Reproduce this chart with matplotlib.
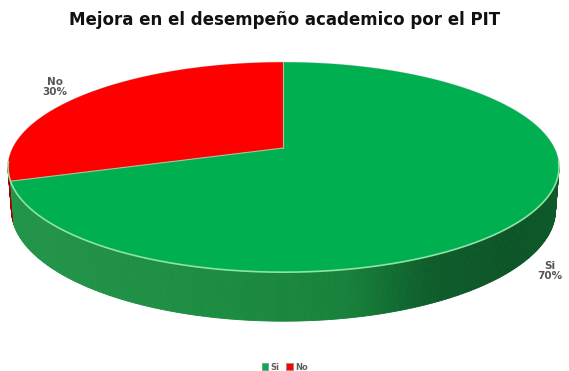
import numpy as np
import matplotlib
matplotlib.use("Agg")
import matplotlib.pyplot as plt
from matplotlib.collections import PolyCollection
from matplotlib.colors import LinearSegmentedColormap, to_rgb
from matplotlib.patches import Patch

# survey results
categories = ["Si", "No"]
values = [70, 30]
colors = ["#00B050", "#FF0000"]
wall_colors = {"Si": None, "No": "#A80000"}
title = "Mejora en el desempeño academico por el PIT"

W, H = 569, 371

# 3D pie geometry (screen pixels)
APEX = (283.5, 148.0)
WIDTH_PX = 551.0
ELEV = np.radians(22.0)
DIST = 5.07
DEPTH = 0.168


def project(theta, z=0.0):
    X = np.cos(theta)
    Y = np.sin(theta)
    depth = DIST + Y * np.cos(ELEV) - z * np.sin(ELEV)
    sx = X * DIST / depth
    sy = (Y * np.sin(ELEV) + z * np.cos(ELEV)) * DIST / depth
    return sx, sy


_t = np.linspace(0, 2 * np.pi, 2000)
_sx, _ = project(_t)
SCALE = WIDTH_PX / (_sx.max() - _sx.min())


def to_px(theta, z=0.0):
    sx, sy = project(theta, z)
    return APEX[0] + sx * SCALE, APEX[1] - sy * SCALE


fig = plt.figure(figsize=(W / 100, H / 100), dpi=100)
ax = fig.add_axes([0, 0, 1, 1])
ax.set_xlim(0, W)
ax.set_ylim(H, 0)
ax.axis("off")

# slice angles, clockwise from 12 o'clock
total = float(sum(values))
bounds = []
start = np.pi / 2
for v in values:
    end = start - v / total * 2 * np.pi
    bounds.append((end, start))
    start = end

# side wall (front half only)
k = np.cos(ELEV) / DIST
th_lo = np.pi + np.arcsin(k)
th_hi = 2 * np.pi - np.arcsin(k)
wall_cmap = LinearSegmentedColormap.from_list("wall", [
    (0.0, "#23954A"), (0.4, "#1C8C42"), (0.62, "#18813B"),
    (0.7, "#126E33"), (0.76, "#0F5E2B"), (0.92, "#0C5427"),
    (1.0, "#0E5A2A")])

ths = np.linspace(th_lo, th_hi, 300)
polys, fcs = [], []
for a, b in zip(ths[:-1], ths[1:]):
    xa, ya = to_px(a)
    xb, yb = to_px(b)
    xa2, ya2 = to_px(a, -DEPTH)
    xb2, yb2 = to_px(b, -DEPTH)
    polys.append([(xa, ya), (xb, yb), (xb2, yb2), (xa2, ya2)])
    mid = 0.5 * (a + b)
    owner = categories[0]
    for cat, (lo, hi) in zip(categories, bounds):
        m = mid
        while m > hi:
            m -= 2 * np.pi
        while m < lo:
            m += 2 * np.pi
        if lo <= m <= hi:
            owner = cat
    if wall_colors[owner] is None:
        frac = (0.5 * (xa + xb) - (APEX[0] - WIDTH_PX / 2)) / WIDTH_PX
        fcs.append(wall_cmap(np.clip(frac, 0, 1)))
    else:
        fcs.append(to_rgb(wall_colors[owner]))
ax.add_collection(PolyCollection(polys, facecolors=fcs, edgecolors=fcs,
                                 linewidths=0.6, zorder=1))

# top faces
for cat, col, (lo, hi) in zip(categories, colors, bounds):
    t = np.linspace(lo, hi, 400)
    px, py = to_px(t)
    xs = np.concatenate([[APEX[0]], px, [APEX[0]]])
    ys = np.concatenate([[APEX[1]], py, [APEX[1]]])
    ax.fill(xs, ys, color=col, lw=0, zorder=2)

# slice separators
for lo, hi in bounds:
    x1, y1 = to_px(hi)
    ax.plot([APEX[0], x1], [APEX[1], y1], color="#9CC79A", lw=0.8, zorder=3)

# rim highlight along the front edge, faint shade along the back
t = np.linspace(th_lo - 0.05, th_hi + 0.05, 300)
rx, ry = to_px(t)
ax.plot(rx, ry, color="#8FE3A6", lw=1.2, zorder=4)
t = np.linspace(th_hi, th_lo + 2 * np.pi, 300)
rx, ry = to_px(t)
ax.plot(rx, ry, color="#D8D8D8", lw=0.8, zorder=1.5)

# data labels
label_pos = {"No": (55, 87), "Si": (550, 271)}
for cat, v in zip(categories, values):
    lx, ly = label_pos[cat]
    ax.text(lx, ly, f"{cat}\n{v / total:.0%}", ha="center", va="center",
            fontsize=7.5, fontweight="bold", color="#555555",
            linespacing=1.0)

ax.text(W / 2, 20, title, ha="center", va="center", fontsize=12,
        fontweight="heavy", color="#111111")

handles = [Patch(facecolor=c, edgecolor="#909090", lw=0.6) for c in colors]
fig.legend(handles, categories, loc="center", bbox_to_anchor=(285 / W, 1 - 367 / H),
           ncol=2, frameon=False, handlelength=0.8,
           handleheight=0.8, handletextpad=0.3, columnspacing=0.8,
           prop={"weight": "bold", "size": 6}, labelcolor="#606060")

fig.savefig("out.png", dpi=100)
